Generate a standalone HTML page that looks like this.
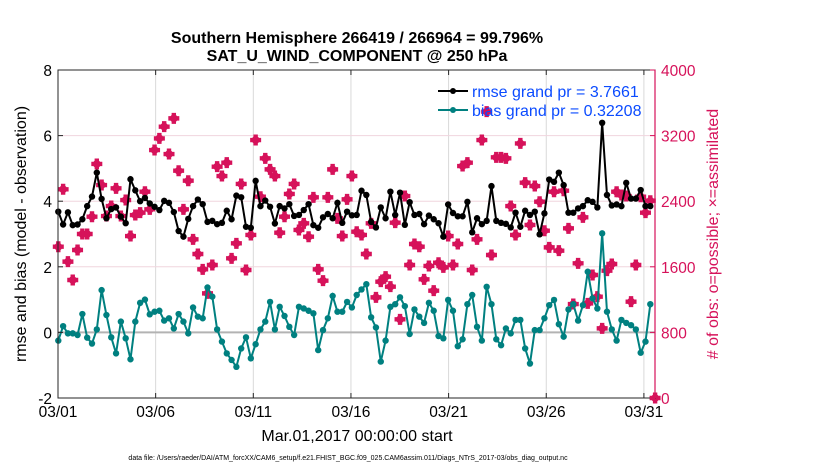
<!DOCTYPE html>
<html><head><meta charset="utf-8"><style>
body{margin:0;background:#fff;font-family:"Liberation Sans",Arial,sans-serif}
svg text{font-family:"Liberation Sans",Arial,sans-serif}
</style></head><body>
<svg id="chart" width="830" height="470" xmlns="http://www.w3.org/2000/svg">
<text x="357" y="43" font-size="16" font-weight="bold" text-anchor="middle">Southern Hemisphere 266419 / 266964 = 99.796%</text>
<text x="357" y="61" font-size="16" font-weight="bold" text-anchor="middle">SAT_U_WIND_COMPONENT @ 250 hPa</text>
<g id="grid"></g>
<g id="obs"></g>
<g id="lines"></g>
<rect x="58" y="70" width="597" height="328" fill="none" stroke="#262626" stroke-width="1"/>
<line x1="655" y1="70" x2="655" y2="398" stroke="#d6125a" stroke-width="1.2"/>
<g id="axes"></g>
<text x="357" y="441" font-size="16" text-anchor="middle">Mar.01,2017 00:00:00 start</text>
<text transform="translate(26,234) rotate(-90)" font-size="16" text-anchor="middle">rmse and bias (model - observation)</text>
<text transform="translate(718,234) rotate(-90)" font-size="16" fill="#d6125a" text-anchor="middle"># of obs: o=possible; ×=assimilated</text>
<g>
<line x1="438" y1="91" x2="468" y2="91" stroke="#000" stroke-width="2"/><circle cx="453" cy="91" r="3" fill="#000"/>
<text x="472" y="97" font-size="16" fill="#0b4bff">rmse grand pr = 3.7661</text>
<line x1="438" y1="110" x2="468" y2="110" stroke="#008080" stroke-width="2"/><circle cx="453" cy="110" r="3" fill="#008080"/>
<text x="472" y="116" font-size="16" fill="#0b4bff">bias grand pr = 0.32208</text>
</g>
<text x="348" y="460" font-size="7" text-anchor="middle">data file: /Users/raeder/DAI/ATM_forcXX/CAM6_setup/f.e21.FHIST_BGC.f09_025.CAM6assim.011/Diags_NTrS_2017-03/obs_diag_output.nc</text>
</svg>
<script>
const rmse=[3.68,3.29,3.66,3.27,3.29,3.45,3.85,4.14,4.87,4.07,3.48,3.76,3.81,3.53,3.33,4.67,4.33,4.0,4.1,3.93,3.83,3.73,4.01,3.95,3.67,3.09,2.92,3.46,3.85,4.05,3.91,3.37,
3.40,3.30,3.34,3.71,3.45,4.17,4.12,3.22,3.19,4.62,3.85,4.02,3.83,3.32,3.85,3.78,3.91,3.55,3.58,3.73,3.91,3.27,3.19,3.51,3.61,3.48,3.95,3.34,3.68,3.57,
3.58,4.32,4.19,3.37,3.20,3.81,3.48,4.29,3.58,4.26,3.28,3.97,3.58,3.61,3.30,3.56,3.45,3.33,2.92,3.90,3.64,3.54,3.54,3.98,3.05,3.48,3.30,3.40,4.46,3.40,
3.34,3.31,3.20,3.65,3.22,3.71,3.58,3.68,2.99,3.63,4.66,4.59,4.87,4.49,3.65,3.65,3.78,3.85,4.03,3.98,3.81,6.39,4.19,3.87,3.90,3.85,4.56,4.08,4.08,4.34,3.85,3.85];
const bias=[-0.25,0.19,-0.03,-0.03,-0.08,0.56,-0.16,-0.34,0.09,1.29,0.53,-0.15,-0.64,0.33,-0.18,-0.82,0.33,0.90,1.0,0.55,0.63,0.66,0.36,0.43,0.12,0.56,0.33,-0.03,0.76,0.48,0.43,1.37,
1.09,0.09,-0.28,-0.64,-0.84,-1.05,-0.49,-0.15,-0.79,-0.36,0.09,0.33,0.93,0.09,0.78,0.50,0.17,-0.08,0.78,0.73,0.66,0.58,-0.54,0.07,0.43,1.11,0.63,0.63,0.93,0.76,
1.14,1.31,1.47,0.46,0.15,-0.89,-0.25,0.78,0.86,1.07,0.80,-0.05,0.70,0.48,0.29,0.90,0.66,-0.11,-0.18,0.99,0.66,-0.42,-0.21,0.86,1.14,0.17,-0.25,1.39,0.86,-0.21,
-0.39,0.12,-0.03,0.38,0.38,-0.49,-0.95,0.07,0.07,0.43,0.83,0.99,0.25,-0.13,0.70,0.86,0.36,0.83,1.85,1.04,0.73,3.02,0.63,0.09,-0.25,0.38,0.29,0.22,0.09,-0.62,-0.28,0.86];
const obsCount=[1845,2545,1663,1439,1805,2000,2000,2211,2854,2597,2219,2341,2557,2219,2414,1975,2231,2260,2516,2301,3024,3166,3309,2975,3410,2772,2301,2650,1935,1756,1569,1276,
1622,2821,2707,2870,1703,1886,2610,1561,1988,3146,2455,2923,2788,2707,2016,2211,2488,2610,2049,2130,1967,2447,1569,1431,2447,2788,2191,1975,2423,2707,
2028,1988,1756,2130,1227,1419,1480,1358,2138,959,2463,1622,1878,1845,1447,1610,1309,1650,1593,1975,1622,1878,2829,2870,1561,1935,3146,3492,1744,2935,
2935,2923,2341,1988,3105,2626,2110,2585,2394,2040,1837,2516,1797,2528,2069,1146,1642,2203,1154,1500,1236,849,1553,1634,2516,2475,2463,1175,1622,2455,2260,2406,0];
const xTickLabels=["03/01","03/06","03/11","03/16","03/21","03/26","03/31"];
const xTickDays=[0,5,10,15,20,25,30];
const yTickLeft=[-2,0,2,4,6,8];
const yTickRight=[0,800,1600,2400,3200,4000];

const NS="http://www.w3.org/2000/svg";
const X0=58,X1=655,Y0=70,Y1=398;
const yL=v=>Y1-(v+2)/10*(Y1-Y0);
const yR=v=>Y1-v/4000*(Y1-Y0);
const xDay=d=>X0+d*19.53;
const xPt=i=>58.3+i*4.813;
function mk(t,a,p){const e=document.createElementNS(NS,t);for(const k in a)e.setAttribute(k,a[k]);p.appendChild(e);return e;}
const grid=document.getElementById('grid'),axes=document.getElementById('axes');
xTickDays.forEach((d,k)=>{const x=xDay(d);
 const g=mk('line',{x1:x,y1:Y0,x2:x,y2:Y1,stroke:'#d9d9d9','stroke-width':1},grid);
 
 
 mk('line',{x1:x,y1:Y1,x2:x,y2:Y1-5,stroke:'#262626'},axes);
 mk('line',{x1:x,y1:Y0,x2:x,y2:Y0+5,stroke:'#262626'},axes);
 const t=mk('text',{x:x,y:417,'font-size':15.5,'text-anchor':'middle'},axes);t.textContent=xTickLabels[k];
 
 
});
yTickRight.forEach(v=>{const y=yR(v);
 if(v>0&&v<4000){const g=mk('line',{x1:X0,y1:y,x2:X1,y2:y,stroke:'#f0d5de','stroke-width':1},grid);
 
 }
 mk('line',{x1:X1,y1:y,x2:X1-5,y2:y,stroke:'#d6125a'},axes);
 const t=mk('text',{x:661,y:y+6,'font-size':15.5,fill:'#d6125a'},axes);t.textContent=v;
 
 
});
yTickLeft.forEach(v=>{const y=yL(v);
 mk('line',{x1:X0,y1:y,x2:X0+5,y2:y,stroke:'#262626'},axes);
 const t=mk('text',{x:52,y:y+6,'font-size':15.5,'text-anchor':'end'},axes);t.textContent=v;
 
 
});
const z=mk('line',{x1:X0,y1:yL(0),x2:X1,y2:yL(0),stroke:'#b3b3b3','stroke-width':2},grid);


const obsG=document.getElementById('obs');
obsCount.forEach((v,i)=>{const x=xPt(i),y=yR(v);
 const p=mk('path',{d:`M${x-5.5},${y}L${x},${y-5.5}L${x+5.5},${y}L${x},${y+5.5}Z M${x-2.2},${y-5.5}h4.4v11h-4.4Z M${x-5.5},${y-2.2}h11v4.4h-11Z`,fill:'#d6125a'},obsG);
 
 
});
const lines=document.getElementById('lines');
function series(arr,col,name){
 const pl=mk('polyline',{points:arr.map((v,i)=>xPt(i)+','+yL(v)).join(' '),fill:'none',stroke:col,'stroke-width':2},lines);
 
 
 arr.forEach((v,i)=>{const c=mk('circle',{cx:xPt(i),cy:yL(v),r:3.2,fill:col},lines);
  
  });
}
series(rmse,'#000','rmse');
series(bias,'#008080','bias');
</script>
</body></html>
